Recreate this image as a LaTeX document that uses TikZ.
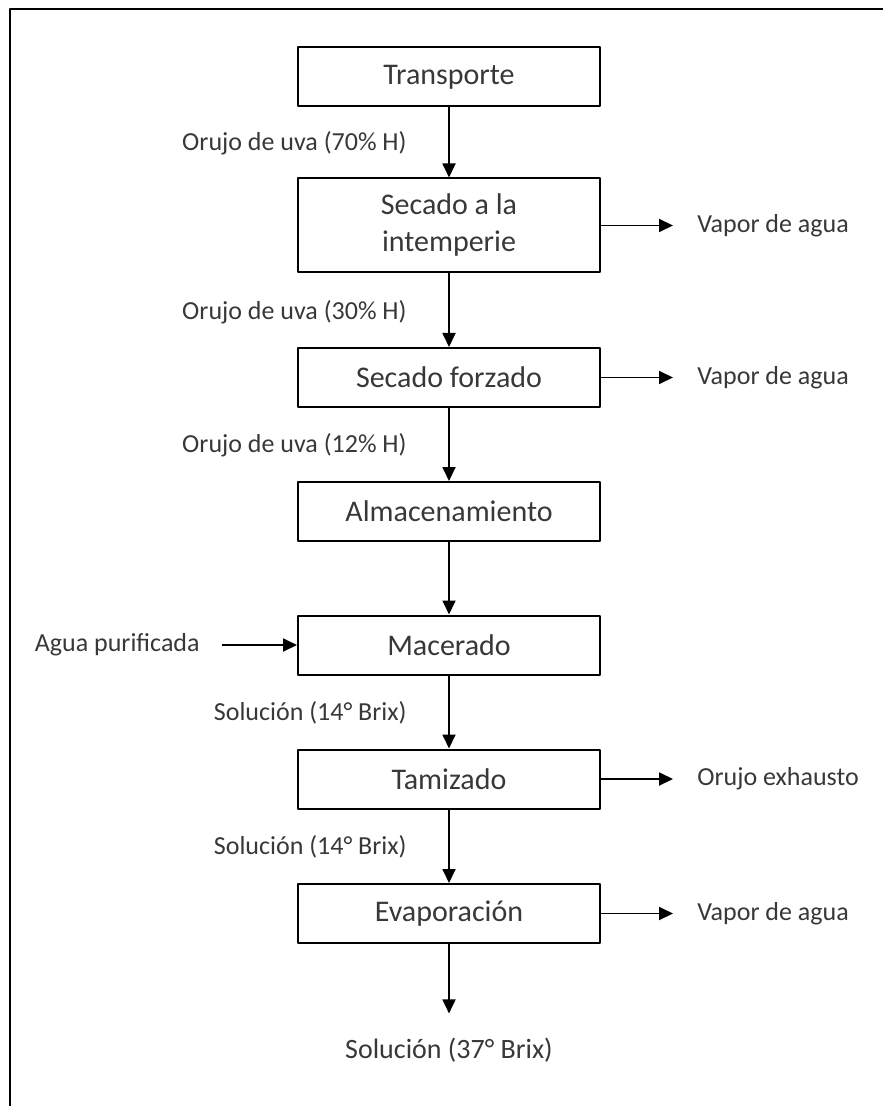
\documentclass[tikz,border=0pt]{standalone}
\usepackage{fontspec}
\setmainfont{Carlito}
\usetikzlibrary{arrows.meta}
\definecolor{texto}{gray}{0.22}
\begin{document}
\begin{tikzpicture}[x=0.5pt, y=-0.5pt, font=\fontsize{13}{18.5}\selectfont, line join=round,
	caja/.style={draw, line width=1pt, minimum width=151pt, minimum height=29.5pt, align=center, text=texto, inner sep=0pt, font=\fontsize{15}{18.5}\selectfont},
	etiq/.style={inner sep=0pt, text=texto},
	flecha/.style={-{Triangle[length=7pt,width=6.5pt]}, line width=0.9pt}]
	\def\xc{449} \def\xl{407} \def\xr{697} % columnas
	\useasboundingbox (0,0) rectangle (883,1106);
	\draw[line width=1.3pt] (10,1106) -- (10,9) -- (883,9);
	% etapas
	\node[caja] (transporte) at (\xc,77) {Transporte};
	\node[caja, minimum height=47pt] (intemperie) at (\xc,225.5) {Secado a la\\intemperie};
	\node[caja] (forzado) at (\xc,377.5) {Secado forzado};
	\node[caja] (almacen) at (\xc,511.5) {Almacenamiento};
	\node[caja] (macerado) at (\xc,645) {Macerado};
	\node[caja] (tamizado) at (\xc,779) {Tamizado};
	\node[caja] (evaporacion) at (\xc,913.5) {Evaporación};
	% corrientes
	\node[etiq, anchor=east] (orujo1) at (\xl,143) {Orujo de uva (70\% H)};
	\node[etiq, anchor=east] (orujo2) at (\xl,312) {Orujo de uva (30\% H)};
	\node[etiq, anchor=east] (orujo3) at (\xl,445) {Orujo de uva (12\% H)};
	\node[etiq, anchor=east] (sol1) at (\xl,713) {Solución (14° Brix)};
	\node[etiq, anchor=east] (sol2) at (\xl,847) {Solución (14° Brix)};
	\node[etiq, anchor=east] (agua) at (200,645) {Agua purificada};
	\node[etiq, anchor=west] (vapor1) at (\xr,225.5) {Vapor de agua};
	\node[etiq, anchor=west] (vapor2) at (\xr,377.5) {Vapor de agua};
	\node[etiq, anchor=west] (exhausto) at (\xr,779) {Orujo exhausto};
	\node[etiq, anchor=west] (vapor3) at (\xr,913.5) {Vapor de agua};
	\node[etiq, font=\fontsize{14}{17}\selectfont] (final) at (\xc,1050) {Solución (37° Brix)};
	% flechas
	\draw[flecha] (transporte) -- (intemperie);
	\draw[flecha] (intemperie) -- (forzado);
	\draw[flecha] (forzado) -- (almacen);
	\draw[flecha] (almacen) -- (macerado);
	\draw[flecha] (macerado) -- (tamizado);
	\draw[flecha] (tamizado) -- (evaporacion);
	\draw[flecha, shorten >=12pt] (evaporacion) -- (final);
	\draw[flecha, shorten <=11pt] (agua) -- (macerado);
	\draw[flecha, shorten >=12pt] (intemperie) -- (vapor1);
	\draw[flecha, shorten >=12pt] (forzado) -- (vapor2);
	\draw[flecha, shorten >=12pt] (tamizado) -- (exhausto);
	\draw[flecha, shorten >=12pt] (evaporacion) -- (vapor3);
\end{tikzpicture}
\end{document}
